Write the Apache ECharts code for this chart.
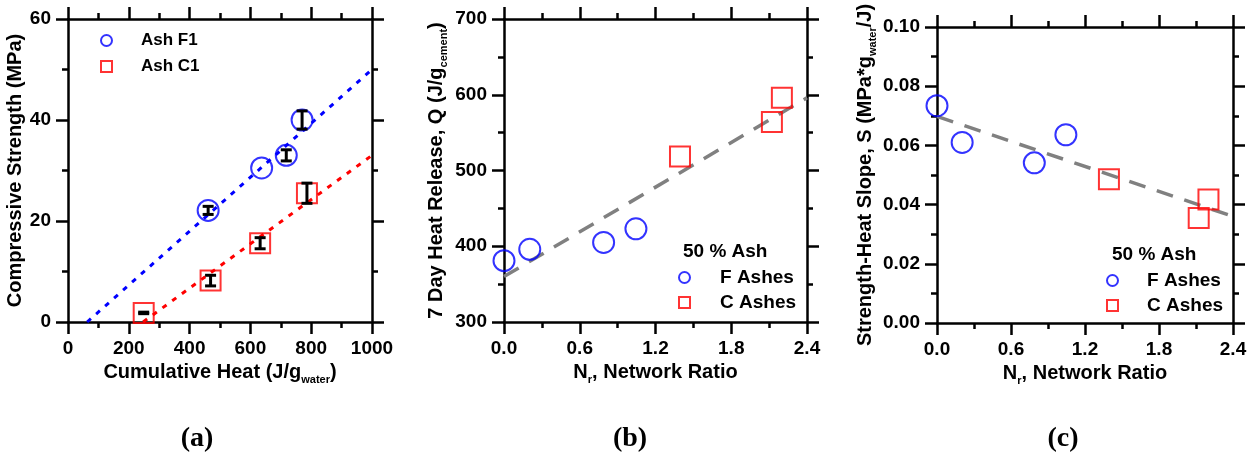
<!DOCTYPE html>
<html><head><meta charset="utf-8">
<script src="https://cdn.jsdelivr.net/npm/echarts@6/dist/echarts.min.js"></script>
<style>html,body{margin:0;padding:0;background:#fff}#c{width:1255px;height:464px}</style>
</head><body><div id="c"></div>
<script>
// ---- data ----
const ashF1Heat = [461, 637, 718, 770];
const ashF1Strength = [22.1, 30.5, 33.0, 40.0];
const ashF1Error = [0.8, 0, 1.1, 1.8];
const ashC1Heat = [249, 469, 632, 786];
const ashC1Strength = [1.8, 8.2, 15.6, 25.5];
const ashC1Error = [0.15, 1.05, 1.1, 2.0];
const fitF1 = [[63, 0], [1000, 50]];
const fitC1 = [[247, 0], [1000, 33]];

const ratioF = [0, 0.204, 0.789, 1.045];
const ratioC = [1.394, 2.122, 2.201];
const heatF = [381, 396, 405, 423];
const heatC = [518.5, 564, 596];
const fitHeat = [[0, 360], [2.4, 596]];

const slopeF = [0.0734, 0.0610, 0.0541, 0.0636];
const slopeC = [0.0486, 0.0355, 0.0417];
const fitSlope = [[0, 0.0698], [2.4, 0.036]];

// axis ranges [min, max, interval]
const heatAxisA = [0, 1000, 200];
const strengthAxisA = [0, 60, 20];
const ratioAxis = [0, 2.4, 0.6];
const heatAxisB = [300, 700, 100];
const slopeAxisC = [0, 0.1, 0.02];

const panelLabels = ['(a)', '(b)', '(c)'];
const legendA = ['Ash F1', 'Ash C1'];
const legendBC = ['F Ashes', 'C Ashes'];
const legendTitle = '50 % Ash';

// ---- styles ----
const FONT = 'Liberation Sans';
const BLUE = '#0000ff', RED = '#ff0000', GRAY = '#808080';
const rich = {
  n: {fontFamily: FONT, fontWeight: 'bold', fontSize: 20, color: '#000'},
  s: {fontFamily: FONT, fontWeight: 'bold', fontSize: 11, color: '#000', padding: [14, 0, 0, 0]}
};

function axis(range, gridIndex, position, opts) {
  const mirror = position === 'top' || position === 'right';
  return {
    type: 'value', gridIndex, position,
    min: range[0], max: range[1], interval: range[2],
    name: mirror ? '' : opts.name,
    nameLocation: 'middle', nameGap: opts.nameGap,
    nameTextStyle: {fontFamily: FONT, fontWeight: 'bold', fontSize: 20, color: '#000', rich},
    axisLine: {show: true, onZero: false, lineStyle: {color: '#000', width: 2.5}},
    axisTick: {show: true, inside: false, length: 12, lineStyle: {color: '#000', width: 2.5}},
    minorTick: {show: true, splitNumber: 2, length: 6, lineStyle: {color: '#000', width: 2.5}},
    splitLine: {show: false}, minorSplitLine: {show: false},
    axisLabel: {show: !mirror, margin: 17, color: '#000', fontFamily: FONT, fontWeight: 'bold', fontSize: 19,
      formatter: opts.fmt || (v => String(v))}
  };
}

function scatter(name, xs, ys, gi, shape, color) {
  return {
    type: 'scatter', name, xAxisIndex: gi * 2, yAxisIndex: gi * 2, clip: false,
    symbol: shape, symbolSize: shape === 'circle' ? 21 : 20,
    itemStyle: {color: 'rgba(0,0,0,0)', borderColor: color, borderWidth: 2},
    emphasis: {disabled: true}, z: 3,
    data: xs.map((x, i) => [x, ys[i]])
  };
}
function fit(name, pts, gi, color, width, dash) {
  return {
    type: 'line', name, xAxisIndex: gi * 2, yAxisIndex: gi * 2, symbol: 'none', clip: false,
    lineStyle: {color, width, type: dash, cap: 'butt'}, z: 2, silent: true,
    data: pts
  };
}
function errorBars(name, xs, ys, es) {
  return {
    type: 'custom', name, xAxisIndex: 0, yAxisIndex: 0, z: 5, silent: true,
    data: xs.map((x, i) => [x, ys[i], es[i]]),
    renderItem: (params, api) => {
      const x = api.value(0), y = api.value(1), e = api.value(2);
      if (!e) return {type: 'group', children: []};
      const t = api.coord([x, y + e]), b = api.coord([x, y - e]);
      const hw = 5.5, st = {stroke: '#000', lineWidth: 3};
      return {type: 'group', children: [
        {type: 'line', shape: {x1: t[0], y1: t[1], x2: b[0], y2: b[1]}, style: st},
        {type: 'line', shape: {x1: t[0] - hw, y1: t[1], x2: t[0] + hw, y2: t[1]}, style: st},
        {type: 'line', shape: {x1: b[0] - hw, y1: b[1], x2: b[0] + hw, y2: b[1]}, style: st}
      ]};
    }
  };
}
function legendItems(names) {
  return [
    {name: names[0], icon: 'circle', itemStyle: {color: 'rgba(0,0,0,0)', borderColor: BLUE, borderWidth: 2}},
    {name: names[1], icon: 'rect', itemStyle: {color: 'rgba(0,0,0,0)', borderColor: RED, borderWidth: 2}}
  ];
}
function legend(names, left, top, fontSize, gap, pad) {
  return {
    data: legendItems(names), orient: 'vertical', left, top, itemWidth: 11, itemHeight: 11, itemGap: gap,
    selectedMode: false, padding: 0,
    textStyle: {fontFamily: FONT, fontWeight: 'bold', fontSize, color: '#000', padding: [0, 0, 0, pad]}
  };
}

const subName = (a, s, b) => '{n|' + a + '}{s|' + s + '}{n|' + b + '}';
const labelStyle = {fontFamily: 'Liberation Serif', fontWeight: 'bold', fontSize: 28, color: '#000'};

const option = {
  animation: false,
  backgroundColor: '#fff',
  grid: [
    {left: 68, top: 19, width: 304, height: 303},
    {left: 504, top: 19, width: 303, height: 303},
    {left: 937, top: 27, width: 296, height: 296}
  ],
  xAxis: [
    axis(heatAxisA, 0, 'bottom', {name: subName('Cumulative Heat (J/g', 'water', ')'), nameGap: 36}),
    axis(heatAxisA, 0, 'top', {}),
    axis(ratioAxis, 1, 'bottom', {name: subName('N', 'r', ', Network Ratio'), nameGap: 38, fmt: v => v.toFixed(1)}),
    axis(ratioAxis, 1, 'top', {}),
    axis(ratioAxis, 2, 'bottom', {name: subName('N', 'r', ', Network Ratio'), nameGap: 38, fmt: v => v.toFixed(1)}),
    axis(ratioAxis, 2, 'top', {})
  ],
  yAxis: [
    axis(strengthAxisA, 0, 'left', {name: '{n|Compressive Strength (MPa)}', nameGap: 43}),
    axis(strengthAxisA, 0, 'right', {}),
    axis(heatAxisB, 1, 'left', {name: subName('7 Day Heat Release, Q (J/g', 'cement', ')'), nameGap: 55}),
    axis(heatAxisB, 1, 'right', {}),
    axis(slopeAxisC, 2, 'left', {name: subName('Strength-Heat Slope, S (MPa*g', 'water', '/J)'), nameGap: 59, fmt: v => v.toFixed(2)}),
    axis(slopeAxisC, 2, 'right', {})
  ],
  title: [
    {text: panelLabels[0], left: 197, top: 425, textAlign: 'center', padding: 0, textStyle: labelStyle},
    {text: panelLabels[1], left: 630, top: 425, textAlign: 'center', padding: 0, textStyle: labelStyle},
    {text: panelLabels[2], left: 1063, top: 425, textAlign: 'center', padding: 0, textStyle: labelStyle},
    {text: legendTitle, left: 683, top: 242, padding: 0,
      textStyle: {fontFamily: FONT, fontWeight: 'bold', fontSize: 19, color: '#000'}},
    {text: legendTitle, left: 1112, top: 245, padding: 0,
      textStyle: {fontFamily: FONT, fontWeight: 'bold', fontSize: 19, color: '#000'}}
  ],
  legend: [
    legend(legendA, 100, 32, 17, 9, 24),
    legend(legendBC, 678, 268, 19, 6, 25),
    legend(legendBC, 1106, 271, 19, 6, 24)
  ],
  series: [
    fit('fitF1', fitF1, 0, BLUE, 3, [5, 7]),
    fit('fitC1', fitC1, 0, RED, 3, [5, 7]),
    scatter('Ash F1', ashF1Heat, ashF1Strength, 0, 'circle', BLUE),
    scatter('Ash C1', ashC1Heat, ashC1Strength, 0, 'rect', RED),
    errorBars('errF1', ashF1Heat, ashF1Strength, ashF1Error),
    errorBars('errC1', ashC1Heat, ashC1Strength, ashC1Error),
    fit('fitHeat', fitHeat, 1, GRAY, 3.5, [17, 12]),
    scatter('F Ashes', ratioF, heatF, 1, 'circle', BLUE),
    scatter('C Ashes', ratioC, heatC, 1, 'rect', RED),
    fit('fitSlope', fitSlope, 2, GRAY, 3.5, [17, 12]),
    scatter('F Ashes', ratioF, slopeF, 2, 'circle', BLUE),
    scatter('C Ashes', ratioC, slopeC, 2, 'rect', RED)
  ]
};
const chart = echarts.init(document.getElementById('c'), null, {renderer: 'canvas'});
chart.setOption(option);
</script></body></html>
